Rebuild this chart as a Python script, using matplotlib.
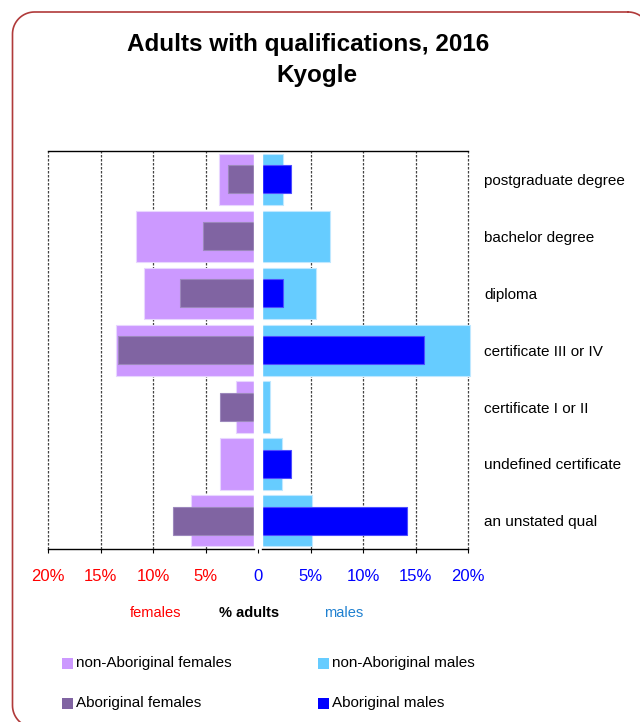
import matplotlib
matplotlib.use("Agg")
import matplotlib.pyplot as plt
import numpy as np
from matplotlib.patches import Rectangle
from matplotlib.lines import Line2D

plt.rcParams['font.family'] = ['Liberation Sans', 'DejaVu Sans']

# qualification levels, top to bottom
categories = ["postgraduate degree", "bachelor degree", "diploma",
              "certificate III or IV", "certificate I or II",
              "undefined certificate", "an unstated qual"]

# % of adults
non_abor_females = [3.7, 11.6, 10.9, 13.5, 2.1, 3.6, 6.4]
abor_females = [2.9, 5.2, 7.4, 13.3, 3.6, 0.0, 8.1]
non_abor_males = [2.4, 6.9, 5.5, 20.15, 1.1, 2.3, 5.1]
abor_males = [3.1, 0.0, 2.4, 15.8, 0.0, 3.1, 14.2]

tick_vals = [-20, -15, -10, -5, 0, 5, 10, 15, 20]
tick_labels = ["20%", "15%", "10%", "5%", "0", "5%", "10%", "15%", "20%"]

c_nf = "#CC99FF"
c_af = "#8064A2"
c_nm = "#66CCFF"
c_am = "#0000FF"

W, H = 640, 722
fig = plt.figure(figsize=(W / 100, H / 100), dpi=100)
ax = fig.add_axes([0.075, 0.2392, 0.65625, 0.5517])

y = list(range(len(categories)))
gap = 0.42

ax.barh(y, [-v for v in non_abor_females], height=0.9, color=c_nf,
        edgecolor="#E8D6FF", linewidth=0.8, zorder=1.5)
ax.barh(y, [-v for v in abor_females], height=0.49, color=c_af,
        edgecolor="#9C88BC", linewidth=0.8, zorder=1.8)
ax.barh(y, non_abor_males, height=0.9, color=c_nm,
        edgecolor="#BFE8FF", linewidth=0.8, zorder=1.5, clip_on=False)
ax.barh(y, abor_males, height=0.49, color=c_am,
        edgecolor="#4D4DFF", linewidth=0.8, zorder=1.8)

# white strip down the middle separating the two sides
ax.axvspan(-gap, gap, color="white", zorder=2.2)

for v in tick_vals:
    if v != 0:
        ax.axvline(v, color="#444444", linestyle=(0, (2, 1.2)),
                   linewidth=0.9, zorder=1, clip_on=False)

ax.set_xlim(-20, 20)
ax.set_ylim(len(categories) - 0.5, -0.5)

ax.set_xticks(tick_vals)
ax.set_xticklabels(tick_labels, fontsize=12)
for lbl, v in zip(ax.get_xticklabels(), tick_vals):
    lbl.set_color("#FF0000" if v < 0 else "#0000FF")
ax.tick_params(axis="x", direction="out", length=3, width=0.8, pad=11)

ax.yaxis.tick_right()
ax.set_yticks(y)
ax.set_yticklabels(categories, fontsize=11)
ax.tick_params(axis="y", length=0, pad=11.5)

for side in ["left", "right"]:
    ax.spines[side].set_visible(False)
ax.spines["top"].set_linewidth(1.0)
ax.spines["bottom"].set_bounds(-20, -gap)
ax.spines["bottom"].set_linewidth(1.0)
ax.plot([gap, 20], [len(categories) - 0.5] * 2, color="black",
        linewidth=1.0, clip_on=False, zorder=5)

fig.text(308 / W, 1 - 50.7 / H, "Adults with qualifications, 2016",
         ha="center", va="baseline", fontsize=17.5, fontweight="bold")
fig.text(317 / W, 1 - 81.7 / H, "Kyogle",
         ha="center", va="baseline", fontsize=17.5, fontweight="bold")

fig.text(156 / W, 1 - 613 / H, "females", color="#FF0000",
         ha="center", va="center", fontsize=10.5)
fig.text(249 / W, 1 - 613 / H, "% adults", color="black",
         ha="center", va="center", fontsize=10.5, fontweight="bold")
fig.text(344 / W, 1 - 613 / H, "males", color="#1F80D0",
         ha="center", va="center", fontsize=10.5)

# legend entries
legend_items = [
    (62, 663, c_nf, "non-Aboriginal females"),
    (318, 663, c_nm, "non-Aboriginal males"),
    (62, 703, c_af, "Aboriginal females"),
    (318, 703, c_am, "Aboriginal males"),
]
for lx, ly, col, txt in legend_items:
    fig.add_artist(Rectangle((lx / W, 1 - (ly + 5.5) / H), 11 / W, 11 / H,
                             facecolor=col, edgecolor="none",
                             transform=fig.transFigure))
    fig.text((lx + 14) / W, 1 - ly / H, txt, ha="left", va="center",
             fontsize=11)


def rounded_frame(x0, y0, x1, y1, r):
    # outline of a rounded rectangle in pixel coords (y grows downwards)
    pts = []
    corners = [(x1 - r, y0 + r, -90, 0), (x1 - r, y1 - r, 0, 90),
               (x0 + r, y1 - r, 90, 180), (x0 + r, y0 + r, 180, 270)]
    for cx, cy, a0, a1 in corners:
        t = np.radians(np.linspace(a0, a1, 20))
        pts += list(zip(cx + r * np.cos(t), cy + r * np.sin(t)))
    pts.append(pts[0])
    xs = np.array([p[0] for p in pts]) / W
    ys = 1 - np.array([p[1] for p in pts]) / H
    return xs, ys


fx, fy = rounded_frame(12.5, 12, 650, 727.5, 22)
fig.add_artist(Line2D(fx, fy, color="#B03A3A", linewidth=1.2,
                      transform=fig.transFigure))

fig.savefig("out.png", dpi=100)
